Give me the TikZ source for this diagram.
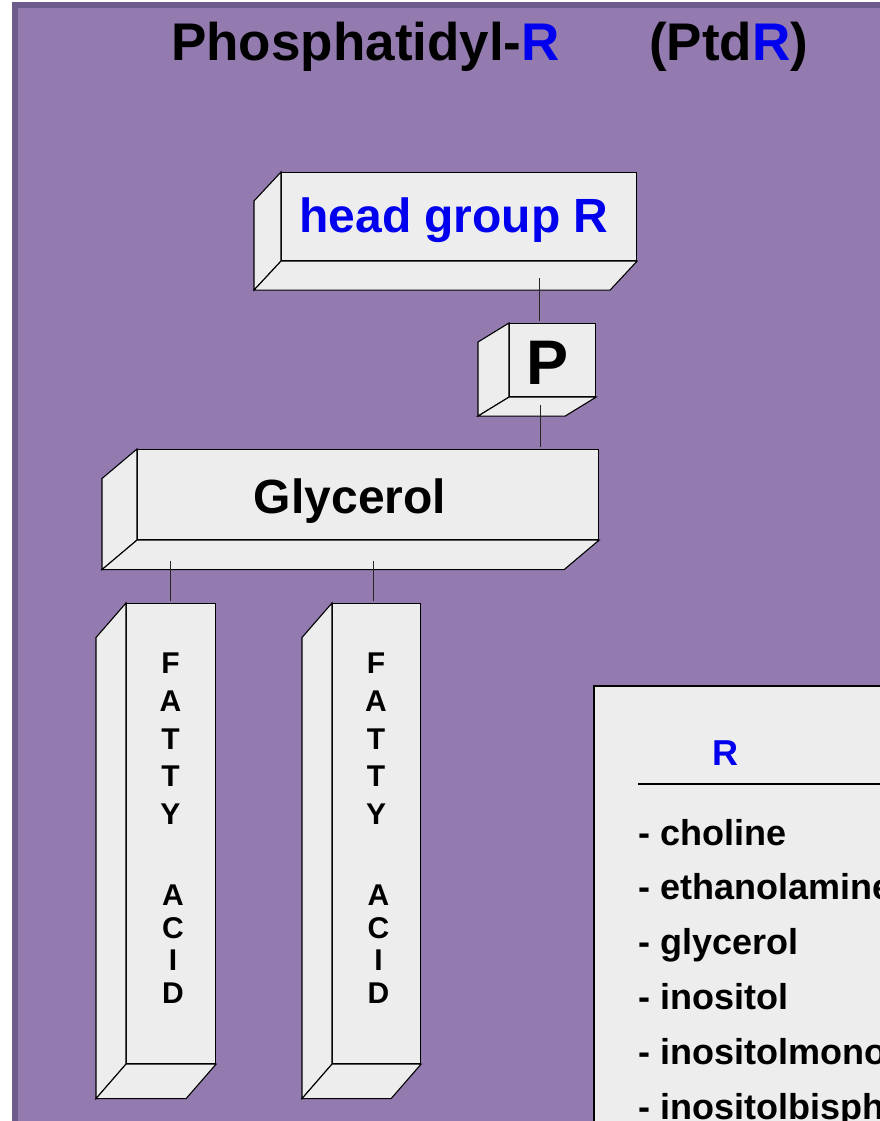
\documentclass[tikz,border=0pt]{standalone}
\usepackage{fontspec}
\setmainfont{Liberation Sans}
\definecolor{bgpurple}{RGB}{147,123,176}
\definecolor{edgepurple}{RGB}{110,93,140}
\definecolor{facegray}{RGB}{237,237,237}
\definecolor{headblue}{RGB}{0,0,238}

% extruded side and bottom faces of a box whose front face is node #1
\newcommand\sidefaces[3]{%
  \draw[face] (#1.north west) -- ++(#2,#3) -- ([shift={(#2,#3)}]#1.south west) -- (#1.south west) -- cycle;
  \draw[face] (#1.south west) -- ([shift={(#2,#3)}]#1.south west) -- ([shift={(#2,#3)}]#1.south east) -- (#1.south east) -- cycle;
}

\tikzset{
  face/.style={fill=facegray, draw=black, line width=1.1pt, line join=miter},
  front/.style={face, rectangle, inner sep=0pt, anchor=north west},
  link/.style={draw=black!85, line width=1pt, shorten >=2pt},
  txt/.style={inner sep=0pt, anchor=base},
  bigtxt/.style={txt, font=\bfseries\fontsize{48}{54}\selectfont},
  ftxt/.style={txt, font=\bfseries\fontsize{30}{34}\selectfont},
  ltxt/.style={txt, anchor=base west, font=\bfseries\fontsize{36}{40}\selectfont},
}

\begin{document}
\begin{tikzpicture}[x=1pt,y=-1pt]
\useasboundingbox (0,0) rectangle (880,1121);
\clip (0,0) rectangle (880,1121);

% page background with the framed purple panel
\fill[white] (0,0) rectangle (880,1121);
\draw[fill=bgpurple, draw=edgepurple, line width=5.7pt] (15.2,5.2) rectangle (920,1160);

% title
\node[txt, anchor=base west, font=\bfseries\fontsize{53}{60}\selectfont] (title) at (171,61)
  {Phosphatidyl-\textcolor{headblue}{R}};
\node[txt, anchor=base west, font=\bfseries\fontsize{53}{60}\selectfont] (abbr) at (649,61)
  {(Ptd\textcolor{headblue}{R})};

% head group
\node[front, minimum width=355pt, minimum height=88pt] (hg) at (281,172) {};
\sidefaces{hg}{-27}{29}
\node[bigtxt, text=headblue] (hgtext) at (454,232) {head group R};

% phosphate
\node[front, minimum width=86pt, minimum height=73pt] (p) at (509,323) {};
\sidefaces{p}{-31}{19}
\node[txt, font=\bfseries\fontsize{63}{70}\selectfont] (ptext) at (548,384) {P};

% glycerol backbone
\node[front, minimum width=461pt, minimum height=90pt] (gly) at (137,449) {};
\sidefaces{gly}{-35}{29.5}
\node[bigtxt] (glytext) at (350,513.5) {Glycerol};

% fatty acid chains
\node[front, minimum width=89pt, minimum height=460pt] (fa1) at (126,603) {};
\sidefaces{fa1}{-30}{34.5}
\node[front, minimum width=88pt, minimum height=460pt] (fa2) at (332,603) {};
\sidefaces{fa2}{-30}{34.5}

\foreach \c/\yy [count=\i] in {F/673.3, A/711.7, T/749, T/786.5, Y/824} {
  \node[ftxt] (fa1l\i) at (170.5,\yy) {\c};
  \node[ftxt] (fa2l\i) at (376,\yy) {\c};
}
\foreach \c/\yy [count=\i] in {A/905.5, C/938.5, I/970.5, D/1003} {
  \node[ftxt] (fa1m\i) at (173,\yy) {\c};
  \node[ftxt] (fa2m\i) at (378.5,\yy) {\c};
}

% connectors
\coordinate (hgtail) at (539,278);
\draw[link] (hgtail) -- (hgtail |- p.north);
\coordinate (ptail) at (540,405);
\draw[link] (ptail) -- (ptail |- gly.north);
\coordinate (glytailA) at (170,561);
\draw[link] (glytailA) -- (glytailA |- fa1.north);
\coordinate (glytailB) at (373.5,561);
\draw[link] (glytailB) -- (glytailB |- fa2.north);

% legend of head groups
\node[front, draw=black, line width=1.5pt, minimum width=340pt, minimum height=470pt] (legend) at (593,685) {};
\node[txt, text=headblue, font=\bfseries\fontsize{36}{40}\selectfont] (legR) at (725,765) {R};
\coordinate (rulestart) at (638,784);
\draw[line width=1.2pt] (rulestart) -- (legend.east |- rulestart);
\foreach \t [count=\i] in {choline, ethanolamine, glycerol, inositol, inositolmonophosphate, inositolbisphosphate}
  \node[ltxt] (item\i) at (638,{845+54.9*(\i-1)}) {- \t};
\end{tikzpicture}
\end{document}
